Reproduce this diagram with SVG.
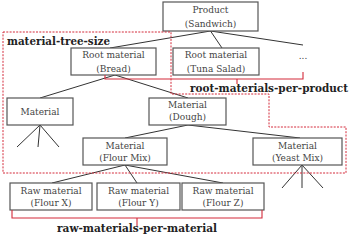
<svg xmlns="http://www.w3.org/2000/svg" width="357" height="245" viewBox="0 0 357 245">
<style>
.box{fill:#fff;stroke:#555;stroke-width:1.2}
.t{font-family:'DejaVu Serif','Liberation Serif',serif;font-size:9px;fill:#444;text-anchor:middle}
.e{stroke:#333;stroke-width:1;fill:none}
.red{stroke:#d42a3a;stroke-width:1.1;fill:none}
.dash{stroke:#d42a3a;stroke-width:1;fill:none;stroke-dasharray:2,1.3}
.lbl{font-family:'DejaVu Serif','Liberation Serif',serif;font-weight:bold;font-size:11px;fill:#222}
</style>
<rect width="357" height="245" fill="#fff"/>
<g id="connectors">
<path class="e" d="M210.5,31 L110,48 M210.5,31 L222,48 M210.5,31 L303,45"/>
<path class="e" d="M115,75 L40,98 M115,75 L188,98"/>
<path class="e" d="M40,125 L17,147 M40,125 L38,147 M40,125 L59,147"/>
<path class="e" d="M188,125 L125,138 M188,125 L300,138"/>
<path class="e" d="M125,165 L52,183 M125,165 L137,183 M125,165 L223,183"/>
<path class="e" d="M302,165 L282,188 M302,165 L302,188 M302,165 L323,188"/>
</g>
<g id="product"><rect class="box" x="163" y="2" width="95" height="29"/><text class="t" x="210.5" y="13">Product</text><text class="t" x="210.5" y="26.5">(Sandwich)</text></g>
<g id="bread"><rect class="box" x="71" y="48" width="85" height="27"/><text class="t" x="113.5" y="58">Root material</text><text class="t" x="113.5" y="71.5">(Bread)</text></g>
<g id="tuna"><rect class="box" x="173" y="48" width="86" height="27"/><text class="t" x="216" y="58">Root material</text><text class="t" x="216" y="71.5">(Tuna Salad)</text></g>
<g id="more"><text class="t" x="303" y="59">...</text></g>
<g id="material"><rect class="box" x="7" y="98" width="66" height="27"/><text class="t" x="40" y="115">Material</text></g>
<g id="dough"><rect class="box" x="149" y="98" width="77" height="27"/><text class="t" x="187.5" y="108">Material</text><text class="t" x="187.5" y="119.5">(Dough)</text></g>
<g id="flourmix"><rect class="box" x="83" y="138" width="84" height="27"/><text class="t" x="125" y="148.7">Material</text><text class="t" x="125" y="160.5">(Flour Mix)</text></g>
<g id="yeastmix"><rect class="box" x="253" y="138" width="89" height="27"/><text class="t" x="297.5" y="148.7">Material</text><text class="t" x="297.5" y="160.5">(Yeast Mix)</text></g>
<g id="flourx"><rect class="box" x="10" y="183" width="82" height="27"/><text class="t" x="51" y="193.5">Raw material</text><text class="t" x="51" y="206">(Flour X)</text></g>
<g id="floury"><rect class="box" x="97" y="183" width="83" height="27"/><text class="t" x="138.5" y="193.5">Raw material</text><text class="t" x="138.5" y="206">(Flour Y)</text></g>
<g id="flourz"><rect class="box" x="182" y="183" width="82" height="27"/><text class="t" x="223" y="193.5">Raw material</text><text class="t" x="223" y="206">(Flour Z)</text></g>
<g id="annotations">
<path class="dash" d="M3,32 H171 V94 H269 V127 H346 V173 H3 Z"/>
<path class="red" d="M105,75 V79 H303 V72 M237,79 V84"/>
<path class="red" d="M12,210 V218 H262 V210 M137,218 V226"/>
<text class="lbl" x="7" y="45" textLength="103" lengthAdjust="spacingAndGlyphs">material-tree-size</text>
<text class="lbl" x="190" y="92" textLength="158" lengthAdjust="spacingAndGlyphs">root-materials-per-product</text>
<text class="lbl" x="57" y="232" textLength="160" lengthAdjust="spacingAndGlyphs">raw-materials-per-material</text>
</g>
</svg>
